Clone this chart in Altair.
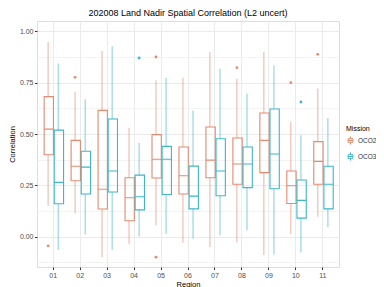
import altair as alt
import pandas as pd

regions = ["01", "02", "03", "04", "05", "06", "07", "08", "09", "10", "11"]
missions = ["OCO2", "OCO3"]
colors = ["#E38A6E", "#3EB6CB"]

oco2_lo = [0.151, 0.115, -0.099, -0.034, 0.055, -0.029, -0.050, -0.026, -0.089, 0.013, 0.097]
oco2_q1 = [0.399, 0.273, 0.135, 0.078, 0.286, 0.208, 0.287, 0.256, 0.312, 0.162, 0.256]
oco2_med = [0.524, 0.343, 0.231, 0.190, 0.377, 0.297, 0.373, 0.354, 0.469, 0.248, 0.367]
oco2_q3 = [0.682, 0.469, 0.615, 0.287, 0.497, 0.437, 0.534, 0.481, 0.602, 0.320, 0.463]
oco2_hi = [0.948, 0.706, 0.904, 0.531, 0.761, 0.774, 0.899, 0.769, 0.899, 0.558, 0.722]

oco3_lo = [-0.063, 0.011, -0.063, 0.002, 0.015, -0.010, 0.008, 0.032, -0.086, -0.076, 0.047]
oco3_q1 = [0.161, 0.208, 0.218, 0.131, 0.206, 0.136, 0.200, 0.239, 0.234, 0.091, 0.136]
oco3_med = [0.265, 0.339, 0.320, 0.195, 0.377, 0.198, 0.320, 0.354, 0.403, 0.177, 0.256]
oco3_q3 = [0.519, 0.416, 0.573, 0.300, 0.440, 0.344, 0.477, 0.437, 0.622, 0.276, 0.343]
oco3_hi = [0.843, 0.669, 0.927, 0.456, 0.773, 0.615, 0.818, 0.696, 0.834, 0.494, 0.578]

out_region = ["01", "02", "05", "05", "08", "10", "11", "04", "10"]
out_mission = ["OCO2", "OCO2", "OCO2", "OCO2", "OCO2", "OCO2", "OCO2", "OCO3", "OCO3"]
out_value = [-0.044, 0.776, 0.875, -0.099, 0.823, 0.750, 0.888, 0.870, 0.656]

rows = []
for m, lo, q1, med, q3, hi in [
    ("OCO2", oco2_lo, oco2_q1, oco2_med, oco2_q3, oco2_hi),
    ("OCO3", oco3_lo, oco3_q1, oco3_med, oco3_q3, oco3_hi),
]:
    for i, r in enumerate(regions):
        rows.append({"Region": r, "Mission": m, "lo": lo[i], "q1": q1[i],
                     "med": med[i], "q3": q3[i], "hi": hi[i]})
stats = pd.DataFrame(rows)
outliers = pd.DataFrame({"Region": out_region, "Mission": out_mission, "value": out_value})
outliers["col"] = [colors[missions.index(m)] for m in out_mission]

FONT = "Liberation Sans"
yvals = [-0.125, 0, 0.125, 0.25, 0.375, 0.5, 0.625, 0.75, 0.875, 1.0]
major_test = "abs(datum.value*4 - round(datum.value*4)) < 0.001"

xenc = alt.X("Region:N", sort=regions,
             scale=alt.Scale(paddingInner=0, paddingOuter=0.1),
             axis=alt.Axis(title="Region", grid=True, gridColor="#ebebeb", bandPosition=0.5,
                           labelAngle=0, labelFontSize=7, labelColor="#4d4d4d", labelFont=FONT,
                           tickColor="#333333", tickSize=2.5, labelPadding=1.5,
                           titleFontSize=7.5, titleFont=FONT, titleFontWeight="normal",
                           titleColor="#000000", titlePadding=2, domain=False))
xoff = alt.XOffset("Mission:N", sort=missions,
                   scale=alt.Scale(paddingInner=0, paddingOuter=0.333))
yscale = alt.Scale(domain=[-0.147, 1.05], nice=False, zero=False)
yaxis = alt.Axis(title="Correlation", values=yvals,
                 labelExpr=major_test + " ? format(datum.value, '.2f') : ''",
                 labelOverlap=False,
                 grid=True, gridColor="#ebebeb",
                 gridWidth={"condition": {"test": major_test, "value": 1}, "value": 0.6},
                 tickOpacity={"condition": {"test": major_test, "value": 1}, "value": 0},
                 tickColor="#333333", tickSize=2.5, labelPadding=1.5,
                 labelFontSize=7, labelColor="#4d4d4d", labelFont=FONT,
                 titleFontSize=7.5, titleFont=FONT, titleFontWeight="normal",
                 titleColor="#000000", titlePadding=3, domain=False)

box_symbol = "M-0.6,-0.45H0.6V0.45H-0.6Z M-0.6,0H0.6 M0,-0.45V-1 M0,0.45V1"
legend = alt.Legend(title="Mission", orient="none", legendX=309, legendY=104,
                    titleFontSize=7, titleFont=FONT, titleFontWeight="normal",
                    titleColor="#000000", labelFontSize=6.5, labelFont=FONT,
                    labelColor="#333333", symbolType=box_symbol, symbolSize=64,
                    symbolFillColor="white", symbolStrokeWidth=1, symbolOpacity=1,
                    rowPadding=3, titlePadding=4, labelOffset=3)
senc = alt.Stroke("Mission:N", sort=missions,
                  scale=alt.Scale(domain=missions, range=colors), legend=legend)


def yenc(field):
    return alt.Y(field, type="quantitative", scale=yscale, axis=yaxis)


base = alt.Chart(stats)

box = base.mark_bar(filled=False, strokeWidth=1.1, width=alt.RelativeBandSize(0.92)).encode(
    x=xenc, xOffset=xoff, y=yenc("q1"), y2="q3:Q", stroke=senc)

whisk_lo = base.mark_rule(strokeWidth=1.2, opacity=0.55).encode(
    x=xenc, xOffset=xoff, y=yenc("lo"), y2="q1:Q", stroke=senc)
whisk_hi = base.mark_rule(strokeWidth=1.2, opacity=0.55).encode(
    x=xenc, xOffset=xoff, y=yenc("q3"), y2="hi:Q", stroke=senc)

median = base.mark_bar(filled=False, strokeWidth=1.1, width=alt.RelativeBandSize(0.92)).encode(
    x=xenc, xOffset=xoff, y=yenc("med"), y2="med:Q", stroke=senc)

outl = alt.Chart(outliers).mark_circle(size=8, opacity=1).encode(
    x=xenc, xOffset=xoff, y=yenc("value"),
    color=alt.Color("col:N", scale=None, legend=None))

chart = alt.layer(box, whisk_lo, whisk_hi, median, outl).properties(
    width=302, height=246,
    title=alt.TitleParams("202008 Land Nadir Spatial Correlation (L2 uncert)", fontSize=9,
                          font=FONT, fontWeight="normal", color="#000000", anchor="middle", offset=3),
    autosize=alt.AutoSizeParams(type="none"),
    padding={"left": 29, "top": 13, "right": 37, "bottom": 20},
).configure_view(stroke="#555555", strokeWidth=1).configure(background="white")

chart.save("out.html", embed_options={"renderer": "svg", "actions": False})
